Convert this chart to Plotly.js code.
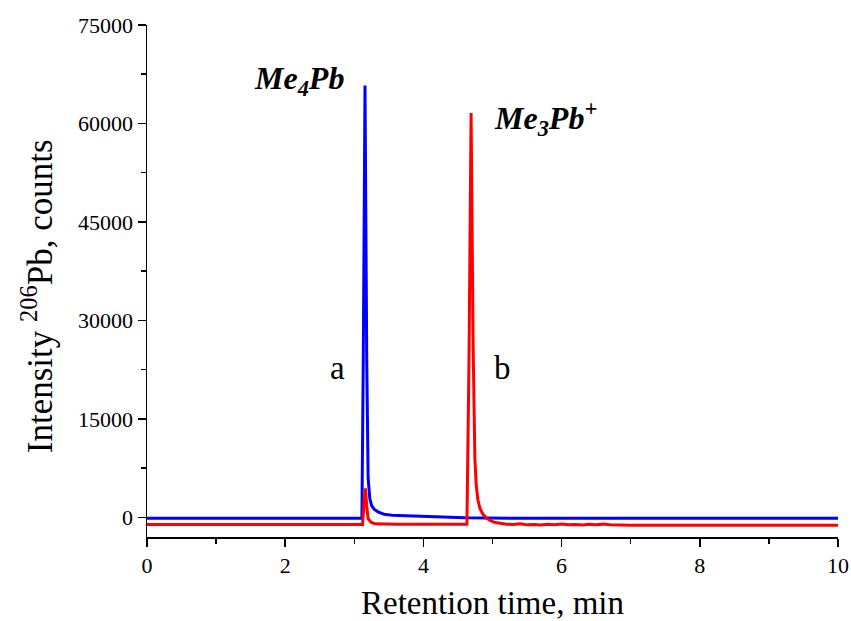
<!DOCTYPE html>
<html>
<head>
<meta charset="utf-8">
<script src="https://cdn.plot.ly/plotly-3.0.1.min.js"></script>
<style>html,body{margin:0;padding:0;background:#fff;}#chart{width:851px;height:621px;}</style>
</head>
<body>
<div id="chart"></div>
<script>
// Series a: Me4Pb (blue)
const timeA = [0, 1.0, 2.0, 3.0, 3.11, 3.13, 3.155, 3.18, 3.20, 3.225, 3.25, 3.29, 3.35, 3.43, 3.55, 3.75, 4.00, 4.30, 4.60, 5.5, 7.0, 8.5, 10];
const countsA = [-150, -150, -150, -150, -150, 24000, 65800, 24000, 6000, 2800, 1800, 1200, 800, 480, 330, 230, 150, 60, -80, -150, -150, -150, -150];

// Series b: Me3Pb+ (red)
const timeB = [0, 1.0, 2.0, 3.0, 3.12, 3.14, 3.16, 3.18, 3.20, 3.24, 3.30, 3.60, 4.00, 4.40, 4.63, 4.66, 4.69, 4.72, 4.745, 4.765, 4.79, 4.82, 4.86, 4.91, 4.97, 5.04, 5.12, 5.20, 5.30, 5.40, 5.50, 5.60, 5.70, 5.80, 5.90, 6.00, 6.10, 6.20, 6.30, 6.40, 6.50, 6.60, 6.70, 7.0, 8.0, 9.0, 10];
const countsB = [-1100, -1100, -1100, -1100, -1100, 2000, 4400, 1800, -200, -750, -1000, -1050, -1050, -1050, -1050, 24000, 61600, 26000, 9000, 4800, 2600, 1300, 500, -100, -500, -800, -950, -1050, -1100, -1000, -1150, -1080, -1180, -1050, -1120, -1020, -1150, -1080, -1180, -1060, -1120, -1040, -1150, -1200, -1200, -1200, -1200];

const xTicks = [0, 2, 4, 6, 8, 10];
const yTicks = [0, 15000, 30000, 45000, 60000, 75000];

const font = 'Liberation Serif, Times New Roman, serif';

const traces = [
  {x: timeA, y: countsA, type: 'scatter', mode: 'lines', line: {color: '#0000ff', width: 3}, hoverinfo: 'skip', showlegend: false},
  {x: timeB, y: countsB, type: 'scatter', mode: 'lines', line: {color: '#ff0000', width: 3}, hoverinfo: 'skip', showlegend: false}
];

const layout = {
  width: 851, height: 621,
  margin: {l: 147, r: 13, t: 25, b: 84},
  paper_bgcolor: '#fff', plot_bgcolor: '#fff',
  font: {family: font, color: '#000', size: 22},
  showlegend: false,
  xaxis: {
    range: [0, 10], tickvals: xTicks, ticktext: xTicks.map(String),
    showgrid: false, zeroline: false, showline: true, linecolor: '#000', linewidth: 1.5,
    ticks: 'outside', ticklen: 8, tickwidth: 1.5, tickcolor: '#000',
    minor: {dtick: 1, ticks: 'outside', ticklen: 5, tickwidth: 1.5, tickcolor: '#000', showgrid: false},
    tickfont: {family: font, size: 22},
    title: {text: 'Retention time, min', font: {family: font, size: 33}, standoff: 26}
  },
  yaxis: {
    range: [-3000, 75000], tickvals: yTicks, ticktext: yTicks.map(String),
    showgrid: false, zeroline: false, showline: true, linecolor: '#000', linewidth: 1.5,
    ticks: 'outside', ticklen: 8, tickwidth: 1.5, tickcolor: '#000',
    minor: {dtick: 7500, ticks: 'outside', ticklen: 5, tickwidth: 1.5, tickcolor: '#000', showgrid: false},
    tickfont: {family: font, size: 22},
    title: {text: ''}
  },
  annotations: [
    {x: -0.158, y: 0.47, xref: 'paper', yref: 'paper', xanchor: 'center', yanchor: 'middle', text: 'Intensity <sup>206</sup>Pb, counts', textangle: -90, showarrow: false, font: {family: font, size: 35}},
    {x: 2.2, y: 66600, xref: 'x', yref: 'y', text: '<b><i>Me<sub>4</sub>Pb</i></b>', showarrow: false, font: {family: font, size: 32}},
    {x: 5.77, y: 60800, xref: 'x', yref: 'y', text: '<b><i>Me<sub>3</sub>Pb<sup>+</sup></i></b>', showarrow: false, font: {family: font, size: 32}},
    {x: 2.75, y: 22700, xref: 'x', yref: 'y', text: 'a', showarrow: false, font: {family: font, size: 33}},
    {x: 5.14, y: 22700, xref: 'x', yref: 'y', text: 'b', showarrow: false, font: {family: font, size: 33}}
  ]
};

Plotly.newPlot('chart', traces, layout, {displayModeBar: false, staticPlot: true});
</script>
</body>
</html>
